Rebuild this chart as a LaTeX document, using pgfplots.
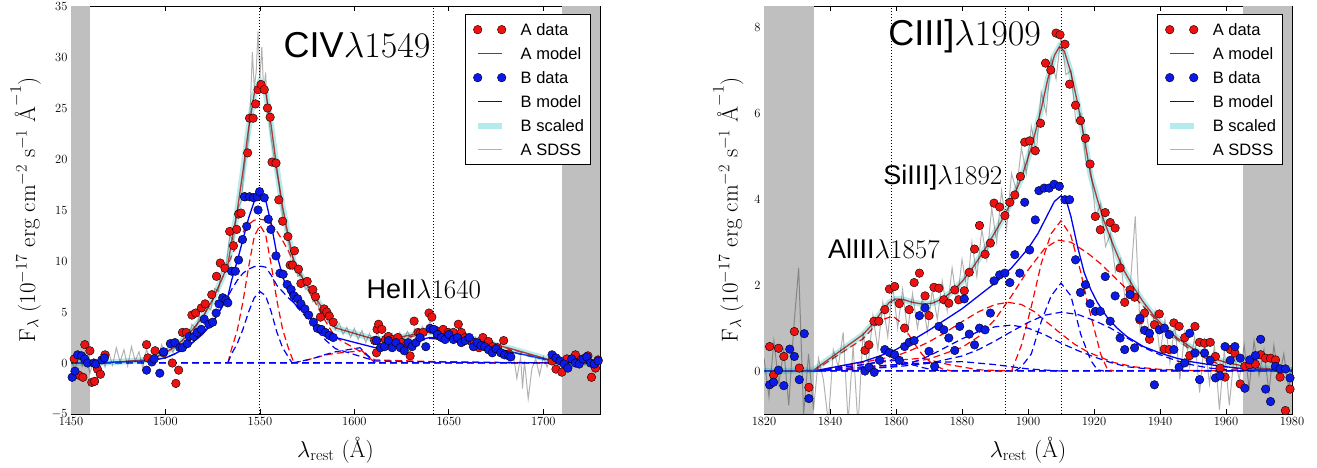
\RequirePackage{fix-cm}
\documentclass[border=0pt]{standalone}
\usepackage{fontspec}
\setsansfont{Liberation Sans}
\usepackage{pgfplots}
\pgfplotsset{compat=1.18}
\definecolor{dred}{rgb}{0.93,0.07,0.07}
\definecolor{dblue}{rgb}{0.05,0.1,0.9}
\definecolor{lred}{rgb}{1,0,0}
\definecolor{lblue}{rgb}{0,0,1}
\definecolor{band}{rgb}{0.75,0.75,0.75}
\definecolor{mc}{rgb}{0,0.75,0.75}
\definecolor{mcpale}{rgb}{0.7,0.925,0.925}
\definecolor{sdssgray}{rgb}{0.7,0.7,0.7}
\pgfplotsset{
  specax/.style={scale only axis, height=408pt,
    axis line style={line width=0.9pt}, tick style={black, line width=0.8pt},
    tick align=inside, tick pos=both, major tick length=5pt, minor tick num=0,
    /pgf/number format/1000 sep={},
    tick label style={font=\fontsize{12.5}{14}\selectfont},
    label style={font=\fontsize{23}{26}\selectfont},
    xlabel={$\lambda_{\mathrm{rest}}$ (\AA)},
    ylabel={$\mathrm{F}_{\lambda}\ (10^{-17}\ \mathrm{erg\ cm^{-2}\ s^{-1}}\ \mbox{\AA}^{-1})$},
    xlabel style={at={(axis description cs:0.5,-0.1054)}, anchor=base},
    legend style={draw=black, line width=1pt, fill=white, inner xsep=6.5pt, inner ysep=9pt,
      row sep=12pt, column sep=13pt, at={(0.983,0.980)}, anchor=north east,
      font=\fontsize{16.5}{18}\selectfont\sffamily,
      nodes={inner sep=0pt, text height=12pt, text depth=0pt}},
    legend cell align=left,
  },
  mdata/.style={only marks, mark=*, mark size=4.3pt, mark options={fill=#1, draw=black, line width=0.4pt}, forget plot},
  model/.style={#1, line width=1.3pt, forget plot},
  comp/.style={#1, line width=1.2pt, dash pattern=on 7pt off 4pt, forget plot},
  bscaled/.style={mc, opacity=0.3, line width=6pt, forget plot},
  sdss/.style={black, opacity=0.3, line width=1pt, forget plot},
  vline/.style={black, line width=1pt, dash pattern=on 1pt off 2pt, forget plot},
}
\newcommand{\legbox}{\path[draw=none, fill=none] (-6pt,-6pt) rectangle (30pt,6pt);}
% legend line swatch as a filled thin bar: #1 = colour, #2 = half thickness
\newcommand{\legline}[2]{\addlegendimage{legend image code/.code={\legbox
    \pgfsetfillcolor{#1}\pgfsetfillopacity{1}%
    \pgfpathrectangle{\pgfpoint{0pt}{-#2}}{\pgfpoint{24pt}{2*#2}}\pgfusepath{fill}}}}
\newcommand{\legdots}[1]{\addlegendimage{legend image code/.code={\legbox
    \path[draw=none, fill=none] plot[mark=*, mark size=4.3pt, mark options={draw=black, fill=#1, line width=0.4pt, solid}] coordinates {(0pt,0pt) (24pt,0pt)};}}}
\newcommand{\legendentries}{%
  \legdots{dred}\addlegendentry{A data}
  \legline{lred}{0.75pt}\addlegendentry{A model}
  \legdots{dblue}\addlegendentry{B data}
  \legline{lblue}{0.75pt}\addlegendentry{B model}
  \legline{mcpale}{3pt}\addlegendentry{B scaled}
  \legline{sdssgray}{0.5pt}\addlegendentry{A SDSS}
}
\begin{document}
\begin{tikzpicture}
\useasboundingbox (0,0) rectangle (1317pt,467pt);
%================ LEFT: CIV =================
\begin{axis}[specax, at={(71pt,53pt)}, anchor=south west, width=529pt,
  xmin=1450, xmax=1730, ymin=-5, ymax=35,
  xtick={1450,1500,1550,1600,1650,1700}, ytick={-5,0,5,10,15,20,25,30,35},
  ylabel style={at={(axis description cs:-0.068,0.5)}, anchor=base}]
\addplot[fill=band, draw=none, forget plot] coordinates {(1450,-5) (1450,35) (1460,35) (1460,-5)} -- cycle;
\addplot[fill=band, draw=none, forget plot] coordinates {(1710,-5) (1710,35) (1730,35) (1730,-5)} -- cycle;
\addplot[vline] coordinates {(1550,-5) (1550,35)};
\addplot[vline] coordinates {(1642,-5) (1642,35)};
% baselines
\addplot[comp=red] coordinates {(1450,0) (1730,0)};
\addplot[comp=blue] coordinates {(1450,0.02) (1730,0.02)};
% A components
\addplot[comp=red] coordinates {(1450,0) (1460,0) (1470,0.05) (1490,0.3) (1495,0.6) (1500,1.0) (1505,1.6) (1510,2.4) (1515,3.4) (1520,4.6) (1525,6.2) (1530,8.3) (1533,9.6) (1535,10.5) (1538,11.7) (1541,12.8) (1544,13.6) (1547,14.0) (1550,14.1) (1553,14.0) (1556,13.6) (1559,12.9) (1562,12.0) (1565,11.0) (1568,9.8) (1570,9.0) (1575,7.3) (1580,5.7) (1585,4.0) (1590,2.5) (1611,0.3) (1640,0.15) (1682,0.05) (1705,0.02) (1730,0)};
\addplot[comp=red] coordinates {(1533,0) (1535,1.4) (1538,3.2) (1541,6.0) (1544,9.4) (1547,12.4) (1550,13.5) (1553,12.6) (1556,9.6) (1559,6.1) (1562,3.3) (1565,1.5) (1568,0)};
\addplot[comp=red] coordinates {(1568,0) (1570,0.1) (1575,0.3) (1580,0.55) (1585,0.8) (1590,0.95) (1604,1.2) (1611,0)};
\addplot[comp=red] coordinates {(1611,2.0) (1620,2.2) (1630,2.6) (1640,2.9) (1650,2.8) (1660,2.4) (1670,1.95) (1682,1.4) (1705,0.2) (1730,0)};
% B components
\addplot[comp=blue] coordinates {(1450,0) (1460,0) (1470,0.05) (1490,0.2) (1495,0.35) (1500,0.5) (1505,0.9) (1510,1.4) (1515,2.1) (1520,2.9) (1525,4.0) (1530,5.5) (1533,6.5) (1535,7.2) (1538,8.1) (1541,8.8) (1544,9.2) (1547,9.45) (1550,9.5) (1553,9.4) (1556,8.6) (1559,7.6) (1562,7.0) (1565,6.4) (1568,5.9) (1570,5.4) (1575,4.4) (1580,3.2) (1585,2.2) (1590,1.4) (1611,0.2) (1640,0.1) (1682,0.03) (1705,0.01) (1730,0)};
\addplot[comp=blue] coordinates {(1533,0) (1535,0.9) (1538,1.9) (1541,3.3) (1544,5.0) (1547,6.4) (1550,7.0) (1553,6.6) (1556,5.0) (1559,3.0) (1562,1.5) (1565,0.6) (1567,0)};
\addplot[comp=blue] coordinates {(1567,0) (1570,0.1) (1575,0.3) (1580,0.55) (1585,0.85) (1590,1.1) (1603,1.5) (1611,0)};
\addplot[comp=blue] coordinates {(1611,1.3) (1620,1.6) (1630,2.0) (1640,2.4) (1650,2.3) (1660,2.0) (1670,1.6) (1682,1.1) (1705,0.2) (1730,0)};
% data
\addplot[mdata=dred] coordinates {(1451.7,0.4) (1454.2,-1.2) (1456.3,-1.4) (1457.3,1.8) (1460,1.2) (1461,-1.9) (1462.5,-1.8) (1464,-0.6) (1465.6,-1.1) (1468,0.8)
 (1490,1.8) (1490.7,0.5) (1494.5,1.2) (1499,1.0) (1503.6,0) (1505.5,-2.0) (1507,-0.7)
 (1509,3.0) (1511,3.0) (1514,4.7) (1516,4.9) (1519,5.4) (1521,5.8) (1524.5,6.7) (1527,8.5) (1529,9.8) (1531.5,9.3) (1534,12.9) (1536,11.5) (1537.7,13.1) (1538.7,14.6) (1540,14.7) (1542,16.3) (1543.5,20.6) (1544.5,24.0) (1546.4,24.0) (1547.7,25.4) (1549,26.8) (1550.6,27.3) (1552.3,26.8) (1554,25.0) (1555.4,24.1) (1556.4,19.7) (1558.5,19.6) (1560,16.0) (1562,13.9) (1564.8,12.4) (1566,9.6) (1567.3,9.6) (1568.3,11.0) (1570.4,9.2) (1571.7,7.8) (1575,8.0) (1578,7.2) (1579.4,6.5) (1582,4.5) (1584,5.3) (1585.4,5.0) (1586.7,4.6) (1588.8,4.0)
 (1610.7,2.2) (1611.7,1.0) (1612,3.3) (1612.8,3.8) (1614.5,3.3) (1616.5,2.3) (1618,2.6) (1620,2.3) (1623,2.5) (1625,2.0) (1626.4,1.6) (1629.5,0.7) (1631.6,4.1) (1633.7,3.0) (1634.8,2.9) (1636.4,3.0) (1639.5,4.9) (1641,4.5) (1643,3.2) (1644,2.7) (1647,3.3) (1649.7,3.0) (1651,2.6) (1652.4,3.0) (1655,3.8) (1656.6,3.0) (1658.7,2.5) (1660.8,2.3) (1662,2.1) (1663.5,2.0) (1666,1.5) (1668,2.5) (1671,2.1) (1673.3,1.6) (1675.8,1.5) (1679,2.2) (1681.7,0.9)
 (1704.6,0.2) (1706.7,-0.6) (1709.8,-0.9) (1712.5,0.4) (1717,0.8) (1720,0.3) (1723.6,0.7) (1725.5,-1.4) (1727.6,-0.5) (1729,0.3)};
\addplot[mdata=dblue] coordinates {(1450.6,-1.4) (1452.1,-0.8) (1453.5,0.8) (1455.6,0.7) (1457.3,0.4) (1458.8,0) (1462.1,0) (1463.1,-0.1) (1466.3,0.3) (1467.7,0.5)
 (1490,-0.7) (1492.8,0.1) (1494,0.4) (1497,-1.0) (1499,1.1) (1502.6,1.9) (1505,2.0) (1507.6,1.5)
 (1509,1.5) (1511.6,1.9) (1512.6,2.6) (1515,2.6) (1516.8,3.0) (1519,3.3) (1520.5,4.3) (1523,3.8) (1525,4.0) (1526.8,4.9) (1528.3,5.8) (1530.3,6.4) (1532,6.2) (1533,5.9) (1535,9.0) (1537,9.0) (1538.7,10.1) (1540.8,12.1) (1543,13.4) (1541.8,16.3) (1544.5,16.3) (1546.6,16.2) (1548.5,16.3) (1549.8,16.8) (1549,15.0) (1552.3,16.2) (1554.4,14.1) (1555.8,13.1) (1558.5,10.5) (1560.6,8.8) (1562.3,8.7) (1564.4,7.7) (1566.5,7.2) (1568,6.6) (1570,6.3) (1571.7,5.8) (1573.8,5.3) (1575.8,4.7) (1578.3,4.0) (1580.4,3.4) (1582.5,3.3) (1584.6,3.0) (1586.7,2.7) (1588.8,2.5)
 (1611.7,2.2) (1613.8,1.5) (1616,1.6) (1618,2.2) (1620,1.5) (1622,2.0) (1624.3,1.5) (1626.4,1.2) (1628.4,2.0) (1630.5,1.6) (1632.6,2.0) (1634.7,2.5) (1637.8,1.6) (1640,3.4) (1642,3.3) (1644,2.8) (1646,2.5) (1648,2.3) (1650,2.8) (1652.4,2.3) (1654.5,2.5) (1656.6,2.0) (1658.7,2.2) (1660.8,2.5) (1663,1.6) (1665,2.0) (1667,1.7) (1669,1.6) (1671,1.3) (1673,1.0) (1675,1.4) (1677.5,1.0) (1679.5,0.8) (1681.7,0.7) (1682.8,0.6)
 (1704.6,0.8) (1706.7,0.5) (1708.8,0.2) (1711,-0.1) (1713,-0.5) (1715,0.4) (1717,0.0) (1719,-0.1) (1721,0.4) (1723,0.6) (1725,0.0) (1727,-0.1) (1729,0.2)};
% models
\addplot[model=red] coordinates {(1450,0) (1460,0) (1470,0.05) (1490,0.3) (1495,0.6) (1500,1.0) (1505,1.6) (1510,2.4) (1515,3.4) (1520,4.6) (1525,6.2) (1530,8.3) (1533,9.6) (1535,11.9) (1538,14.9) (1541,18.8) (1544,23.0) (1547,26.4) (1550,27.6) (1553,26.6) (1556,23.2) (1559,19.0) (1562,15.3) (1565,12.5) (1568,9.8) (1570,9.1) (1575,7.6) (1580,6.25) (1585,4.8) (1590,3.45) (1611,2.3) (1620,2.4) (1630,2.75) (1640,3.05) (1650,2.9) (1660,2.5) (1670,2.0) (1682,1.45) (1705,0.22) (1730,0)};
\addplot[model=blue] coordinates {(1450,0) (1460,0) (1470,0.05) (1490,0.2) (1495,0.35) (1500,0.5) (1505,0.9) (1510,1.4) (1515,2.1) (1520,2.9) (1525,4.0) (1530,5.5) (1533,6.5) (1535,8.1) (1538,10.0) (1541,12.1) (1544,14.2) (1547,15.85) (1550,16.5) (1553,16.0) (1556,13.6) (1559,10.6) (1562,8.5) (1565,7.0) (1568,5.9) (1570,5.5) (1575,4.7) (1580,3.75) (1585,3.05) (1590,2.5) (1611,1.5) (1620,1.7) (1630,2.1) (1640,2.5) (1650,2.35) (1660,2.05) (1670,1.63) (1682,1.13) (1705,0.21) (1730,0)};
\addplot[bscaled] coordinates {(1450,0) (1460,0) (1470,0.05) (1490,0.3) (1495,0.6) (1500,1.0) (1505,1.6) (1510,2.4) (1515,3.4) (1520,4.6) (1525,6.2) (1530,8.3) (1533,9.6) (1535,11.9) (1538,14.9) (1541,18.8) (1544,23.0) (1547,26.4) (1550,27.6) (1553,26.6) (1556,23.2) (1559,19.0) (1562,15.3) (1565,12.5) (1568,9.8) (1570,9.1) (1575,7.6) (1580,6.25) (1585,4.8) (1590,3.45) (1611,2.3) (1620,2.4) (1630,2.75) (1640,3.05) (1650,2.9) (1660,2.5) (1670,2.0) (1682,1.45) (1705,0.22) (1730,0)};
\addplot[sdss] coordinates {(1450,0.5) (1452,-0.8) (1454,0.9) (1456,-0.3) (1458,0.6) (1460,-1.0) (1462,0.3) (1464,-1.8) (1466,0.8) (1468,-0.4) (1470,1.0) (1472,-0.2) (1474,1.5) (1476,0.1) (1478,1.3) (1480,-0.3) (1482,1.6) (1484,0.2) (1486,1.1) (1488,-0.5) (1490,1.4) (1492,0.0) (1494,1.2) (1496,0.4) (1498,1.8) (1500,0.6) (1502,2.0) (1504,1.0) (1506,2.3) (1508,1.2) (1510,3.0) (1512,2.1) (1514,3.8) (1516,3.3) (1518,4.6) (1520,4.0) (1522,5.6) (1524,5.2) (1526,7.3) (1528,7.0) (1530,9.6) (1532,9.2) (1534,12.5) (1536,12.0) (1538,15.0) (1540,15.8) (1542,19.5) (1544,22.0) (1545,25.5) (1546,30.5) (1547,27.0) (1548,28.5) (1549,32.5) (1550,28.0) (1551,31.0) (1552,26.5) (1553,28.5) (1554,25.0) (1556,22.0) (1558,19.5) (1560,17.5) (1562,14.5) (1564,13.0) (1566,11.0) (1568,10.2) (1570,8.5) (1572,8.8) (1574,7.2) (1576,7.5) (1578,6.0) (1580,6.2) (1582,4.9) (1584,5.3) (1586,4.0) (1588,4.4) (1590,3.3) (1592,3.9) (1594,2.8) (1596,3.5) (1598,2.5) (1600,3.4) (1602,2.3) (1604,3.2) (1606,2.0) (1608,2.9) (1610,1.8) (1612,3.0) (1614,2.2) (1616,2.8) (1618,1.9) (1620,2.9) (1622,2.1) (1624,3.0) (1626,2.2) (1628,3.1) (1630,2.4) (1632,3.4) (1634,2.6) (1636,3.6) (1638,2.8) (1640,4.2) (1642,3.0) (1644,3.5) (1646,2.6) (1648,3.3) (1650,2.4) (1652,3.1) (1654,2.2) (1656,3.0) (1658,2.0) (1660,2.8) (1662,1.7) (1664,2.5) (1666,1.4) (1668,2.2) (1670,1.2) (1672,2.0) (1674,0.9) (1676,1.6) (1678,0.5) (1680,1.2) (1682,0.0) (1684,0.9) (1686,-1.5) (1688,0.6) (1689,-2.5) (1690,0.2) (1692,-3.5) (1694,-0.5) (1696,0.4) (1698,-1.2) (1700,0.6) (1702,-0.4) (1704,0.8) (1706,-0.2) (1708,0.5) (1710,-0.3) (1712,0.7) (1714,-0.2) (1716,0.4) (1718,-0.4) (1720,0.3) (1722,-0.2) (1724,0.5) (1726,-0.3) (1728,0.2) (1730,0.0)};
\node[anchor=base west, inner sep=0pt] at (axis cs:1562.5,30.0) {\fontsize{36}{40}\selectfont\sffamily CIV$\lambda1549$};
\node[anchor=base west, inner sep=0pt] at (axis cs:1606.4,6.37) {\fontsize{27}{30}\selectfont\sffamily HeII$\lambda1640$};
\legendentries
\end{axis}
%================ RIGHT: CIII] =================
\begin{axis}[specax, at={(764pt,53pt)}, anchor=south west, width=528pt,
  xmin=1820, xmax=1980, ymin=-1, ymax=8.5,
  xtick={1820,1840,1860,1880,1900,1920,1940,1960,1980}, ytick={0,2,4,6,8},
  ylabel style={at={(axis description cs:-0.05,0.5)}, anchor=base}]
\addplot[fill=band, draw=none, forget plot] coordinates {(1820,-1) (1820,8.5) (1835,8.5) (1835,-1)} -- cycle;
\addplot[fill=band, draw=none, forget plot] coordinates {(1965,-1) (1965,8.5) (1980,8.5) (1980,-1)} -- cycle;
\addplot[vline] coordinates {(1858.7,-1) (1858.7,8.5)};
\addplot[vline] coordinates {(1893.3,-1) (1893.3,8.5)};
\addplot[vline] coordinates {(1910,-1) (1910,8.5)};
\addplot[comp=red] coordinates {(1820,0) (1980,0)};
\addplot[comp=blue] coordinates {(1820,0.005) (1980,0.005)};
% A components
\addplot[comp=red] coordinates {(1835,0) (1850,0.75) (1853,1.0) (1856,1.2) (1859,1.28) (1862,1.1) (1865,0.7) (1868,0.38) (1871,0.17) (1874,0.05) (1877,0)};
\addplot[comp=red] coordinates {(1835,0) (1850,0.2) (1855,0.28) (1860,0.35) (1865,0.5) (1870,0.68) (1875,0.9) (1880,1.15) (1885,1.38) (1890,1.55) (1894,1.6) (1898,1.55) (1902,1.38) (1906,1.12) (1910,0.87) (1914,0.63) (1918,0.45) (1922,0.32) (1926,0.2) (1932,0.1) (1940,0.04) (1950,0.01) (1980,0)};
\addplot[comp=red] coordinates {(1835,0) (1850,0.08) (1860,0.15) (1870,0.28) (1880,0.55) (1885,0.8) (1890,1.2) (1895,1.75) (1900,2.35) (1905,2.85) (1909,3.05) (1913,3.0) (1918,2.75) (1922,2.5) (1926,2.2) (1930,1.9) (1935,1.5) (1940,1.1) (1945,0.75) (1950,0.45) (1955,0.25) (1960,0.1) (1965,0.04) (1980,0)};
\addplot[comp=red] coordinates {(1895,0) (1898,0.6) (1901,1.5) (1904,2.5) (1907,3.2) (1910,3.5) (1913,3.15) (1916,2.3) (1918,1.6) (1920,1.0) (1922,0.4) (1924,0.05) (1926,0)};
\addplot[comp=red] coordinates {(1835,0) (1850,0.15) (1860,0.25) (1868,0.3) (1876,0.15) (1885,0.03) (1895,0)};
% B components
\addplot[comp=blue] coordinates {(1835,0) (1850,0.15) (1855,0.22) (1859,0.26) (1863,0.2) (1867,0.1) (1871,0.03) (1875,0)};
\addplot[comp=blue] coordinates {(1835,0) (1850,0.05) (1860,0.12) (1865,0.2) (1870,0.35) (1875,0.55) (1880,0.75) (1885,0.92) (1890,1.03) (1895,1.07) (1900,1.0) (1905,0.85) (1910,0.65) (1915,0.48) (1920,0.33) (1925,0.2) (1930,0.1) (1940,0.02) (1980,0)};
\addplot[comp=blue] coordinates {(1835,0) (1850,0.05) (1860,0.1) (1870,0.18) (1880,0.35) (1885,0.5) (1890,0.7) (1895,0.92) (1900,1.13) (1905,1.3) (1910,1.37) (1915,1.32) (1920,1.18) (1925,1.0) (1930,0.77) (1935,0.55) (1940,0.38) (1945,0.24) (1950,0.14) (1955,0.07) (1960,0.03) (1980,0)};
\addplot[comp=blue] coordinates {(1896,0) (1898,0.1) (1901,0.4) (1904,1.15) (1907,1.75) (1910,2.05) (1913,1.75) (1916,0.85) (1919,0.25) (1921,0.03) (1923,0)};
\addplot[comp=blue] coordinates {(1835,0) (1850,0.1) (1860,0.15) (1870,0.2) (1880,0.22) (1890,0.15) (1900,0.05) (1910,0)};
% data
\addplot[mdata=dred] coordinates {(1821.7,0.57) (1822.9,-0.09) (1824.4,0.53) (1826,0.34) (1829.2,0.92) (1830.7,0.07) (1833.6,-0.38)
 (1850.6,0.48) (1851.8,0.61) (1853.3,1.16) (1854.8,1.16) (1856.6,1.43) (1858,1.91) (1859.6,1.97) (1861,1.57) (1862.6,1.0) (1864,1.43) (1865.5,2.06) (1867.1,2.28) (1868.8,1.75) (1870,1.29) (1871.5,1.95) (1873,1.93) (1874.5,1.66) (1876,1.58) (1877.8,1.89) (1879,1.66) (1880.7,1.87) (1882.2,2.3) (1883.8,2.84) (1885.3,3.39) (1887,2.72) (1888.6,2.98) (1889.7,3.91) (1891.4,3.82) (1893,3.62) (1894.5,3.93) (1896,4.1) (1897.7,4.53) (1899,5.33) (1900.5,5.36) (1902.2,5.13) (1903.8,5.77) (1905.3,7.17) (1906.9,7.01) (1908.5,7.87) (1909.7,7.83) (1911.2,7.61) (1912.6,6.68) (1914.4,6.19) (1915.9,5.83) (1917.4,5.42) (1918.8,4.82) (1920.4,3.6) (1921.9,3.29) (1923.4,3.69) (1924.9,3.46) (1926.4,3.33) (1927.9,2.4) (1929.3,1.6) (1930.9,1.89) (1932.3,1.72) (1933.9,1.19) (1935.3,1.35) (1936.8,0.74) (1938.3,1.08) (1939.8,1.33) (1941.3,0.51) (1942.8,0.5) (1944.2,1.12) (1945.8,1.04) (1947.5,0.78) (1949,0.36) (1950.6,1.04) (1952,0.67) (1953.5,0.65) (1955.2,0.67) (1956.8,0.34) (1958.2,0.07) (1959.7,-0.14) (1961.3,0.5) (1962.7,0.42) (1964.3,-0.3) (1965.7,0.11) (1967.2,0.15) (1968.9,0.16) (1970.5,0.38) (1972,0.3) (1973.5,0.3) (1975,0.26) (1976.4,-0.14) (1978,-0.92) (1979.4,-0.42)};
\addplot[mdata=dblue] coordinates {(1821.7,-0.32) (1822.9,-0.26) (1824.4,0.02) (1826,-0.34) (1827.8,0.51) (1829.2,0.34) (1830.7,-0.2) (1832.2,0.87) (1833.6,-0.64)
 (1850.6,0) (1851.8,0.09) (1853.4,-0.03) (1855,0.25) (1856.6,0.5) (1858,0.43) (1859.6,0.38) (1861,0.25) (1862.6,0.57) (1864,0.67) (1865.5,0.71) (1867.1,1.29) (1868.8,1.47) (1870,0.46) (1871.7,0.11) (1873,1.04) (1874.5,0.96) (1876,0.77) (1877.8,0.48) (1879.3,1.04) (1880.7,1.68) (1882.2,0.86) (1883.8,0.61) (1885.3,1.0) (1887,0.96) (1888.6,1.35) (1889.7,2.1) (1891.4,2.24) (1893,2.28) (1894.5,2.06) (1896,2.71) (1897.5,2.28) (1899,3.93) (1900.5,2.82) (1902.2,3.52) (1903.3,4.2) (1904.9,4.26) (1906.4,4.26) (1907.9,4.35) (1909.5,4.3) (1911.2,3.99) (1912.6,3.99) (1914.4,2.59) (1915.9,1.83) (1917.4,2.01) (1918.8,1.57) (1920.4,1.39) (1921.9,1.39) (1923.4,2.2) (1924.9,1.16) (1926.4,1.75) (1927.9,0.77) (1929.3,0.5) (1930.9,1.78) (1932.3,0.54) (1933.9,1.23) (1935.3,0.95) (1936.8,0.88) (1938.3,-0.32) (1939.8,0.96) (1941.3,1.0) (1942.8,0.85) (1944.2,0.5) (1945.8,0.09) (1947.5,0.19) (1949,0.88) (1950.6,0.42) (1952,-0.2) (1953.5,0.42) (1955.2,0.25) (1956.8,-0.16) (1958.2,-0.11) (1959.7,0.57) (1961.3,0.25) (1962.7,0.57) (1964.3,0.3) (1965.7,-0.4) (1967.2,0.26) (1968.9,0.36) (1970.5,0.74) (1972,-0.42) (1973.5,-0.71) (1975,0.11) (1976.4,0.05) (1978,0.05) (1979.4,-0.16)};
% models
\addplot[model=red] coordinates {(1820,0) (1825,0) (1830,0.01) (1835,0.02) (1850,0.85) (1853,1.1) (1856,1.42) (1858,1.6) (1860,1.68) (1862,1.67) (1865,1.6) (1868,1.56) (1871,1.58) (1874,1.68) (1877,1.85) (1880,2.08) (1883,2.38) (1886,2.72) (1889,3.1) (1892,3.5) (1895,3.95) (1898,4.5) (1901,5.2) (1904,6.1) (1906,6.8) (1908,7.35) (1909.5,7.55) (1911,7.45) (1913,6.95) (1915,6.25) (1917,5.45) (1919,4.55) (1921,4.0) (1923,3.5) (1926,2.9) (1929,2.35) (1932,1.95) (1935,1.6) (1938,1.3) (1941,1.05) (1945,0.78) (1950,0.52) (1955,0.32) (1960,0.2) (1965,0.12) (1970,0.07) (1975,0.04) (1980,0.02)};
\addplot[model=blue] coordinates {(1820,0) (1835,0) (1850,0.22) (1855,0.35) (1860,0.5) (1865,0.72) (1870,0.95) (1875,1.2) (1880,1.45) (1885,1.75) (1890,2.05) (1895,2.4) (1900,2.85) (1903,3.2) (1906,3.65) (1908,3.95) (1910,4.08) (1911.5,4.0) (1913,3.6) (1915,2.9) (1917,2.3) (1919,1.9) (1921,1.6) (1924,1.25) (1927,1.0) (1930,0.8) (1935,0.57) (1940,0.42) (1945,0.3) (1950,0.21) (1955,0.15) (1960,0.1) (1965,0.06) (1970,0.04) (1980,0.02)};
\addplot[bscaled] coordinates {(1820,0) (1825,0) (1830,0.01) (1835,0.02) (1850,0.85) (1853,1.1) (1856,1.42) (1858,1.6) (1860,1.68) (1862,1.67) (1865,1.6) (1868,1.56) (1871,1.58) (1874,1.68) (1877,1.85) (1880,2.08) (1883,2.38) (1886,2.72) (1889,3.1) (1892,3.5) (1895,3.95) (1898,4.5) (1901,5.2) (1904,6.1) (1906,6.8) (1908,7.35) (1909.5,7.55) (1911,7.45) (1913,6.95) (1915,6.25) (1917,5.45) (1919,4.55) (1921,4.0) (1923,3.5) (1926,2.9) (1929,2.35) (1932,1.95) (1935,1.6) (1938,1.3) (1941,1.05) (1945,0.78) (1950,0.52) (1955,0.32) (1960,0.2) (1965,0.12) (1970,0.07) (1975,0.04) (1980,0.02)};
\addplot[sdss] coordinates {(1820,0.3) (1821.5,-0.6) (1823,0.7) (1824.5,-0.3) (1826,0.5) (1827.5,-0.8) (1829,1.0) (1830.5,2.4) (1832,-1.0) (1833.5,0.4) (1835,-0.9) (1836.5,0.3) (1838,-0.2) (1839.5,-1.2) (1841,0.5) (1842.5,0.1) (1844,0.9) (1845.5,-1.2) (1847,0.6) (1848.5,-1.3) (1850,0.9) (1851.5,0.1) (1853,1.3) (1854.5,0.5) (1856,1.6) (1857.5,0.8) (1859,2.0) (1860.5,1.0) (1862,1.9) (1863.5,0.9) (1865,1.8) (1866.5,1.0) (1868,1.7) (1869.5,0.9) (1871,1.9) (1872.5,1.2) (1874,2.1) (1875.5,1.4) (1877,2.4) (1878.5,1.6) (1880,2.6) (1881.5,1.9) (1883,3.0) (1884.5,2.2) (1886,3.3) (1887.5,2.6) (1889,3.8) (1890.5,3.0) (1892,4.2) (1893.5,3.3) (1895,4.6) (1896.5,4.2) (1898,5.2) (1899.5,4.6) (1901,5.7) (1902.5,5.1) (1904,6.5) (1905.5,6.0) (1907,7.3) (1908.5,6.8) (1910,7.8) (1911.5,6.9) (1913,7.0) (1914.5,5.8) (1916,6.0) (1917.5,4.9) (1919,4.7) (1920.5,3.6) (1922,3.9) (1923.5,2.9) (1925,3.2) (1926.5,2.3) (1928,2.6) (1929.5,1.6) (1931,2.0) (1932.5,3.6) (1934,0.9) (1935.5,1.5) (1937,0.8) (1938.5,1.4) (1940,0.4) (1941.5,1.2) (1943,0.2) (1944.5,1.1) (1946,-0.2) (1947.5,0.9) (1949,0.1) (1950.5,0.8) (1952,-0.5) (1953.5,0.7) (1955,-0.3) (1956.5,0.6) (1958,-0.9) (1959.5,0.5) (1961,-0.8) (1962.5,0.4) (1964,-0.2) (1965.5,0.6) (1967,-0.4) (1968.5,0.7) (1970,-0.1) (1971.5,0.5) (1973,-0.5) (1974.5,0.6) (1976,-0.2) (1977.5,0.4) (1979,-0.4) (1980,0.1)};
\node[anchor=base west, inner sep=0pt] at (axis cs:1857.6,7.59) {\fontsize{36}{40}\selectfont\sffamily CIII]$\lambda1909$};
\node[anchor=base west, inner sep=0pt] at (axis cs:1856.1,4.355) {\fontsize{27}{30}\selectfont\sffamily SiIII]$\lambda1892$};
\node[anchor=base west, inner sep=0pt] at (axis cs:1839.4,2.63) {\fontsize{27}{30}\selectfont\sffamily AlIII$\lambda1857$};
\legendentries
\end{axis}
\end{tikzpicture}
\end{document}
